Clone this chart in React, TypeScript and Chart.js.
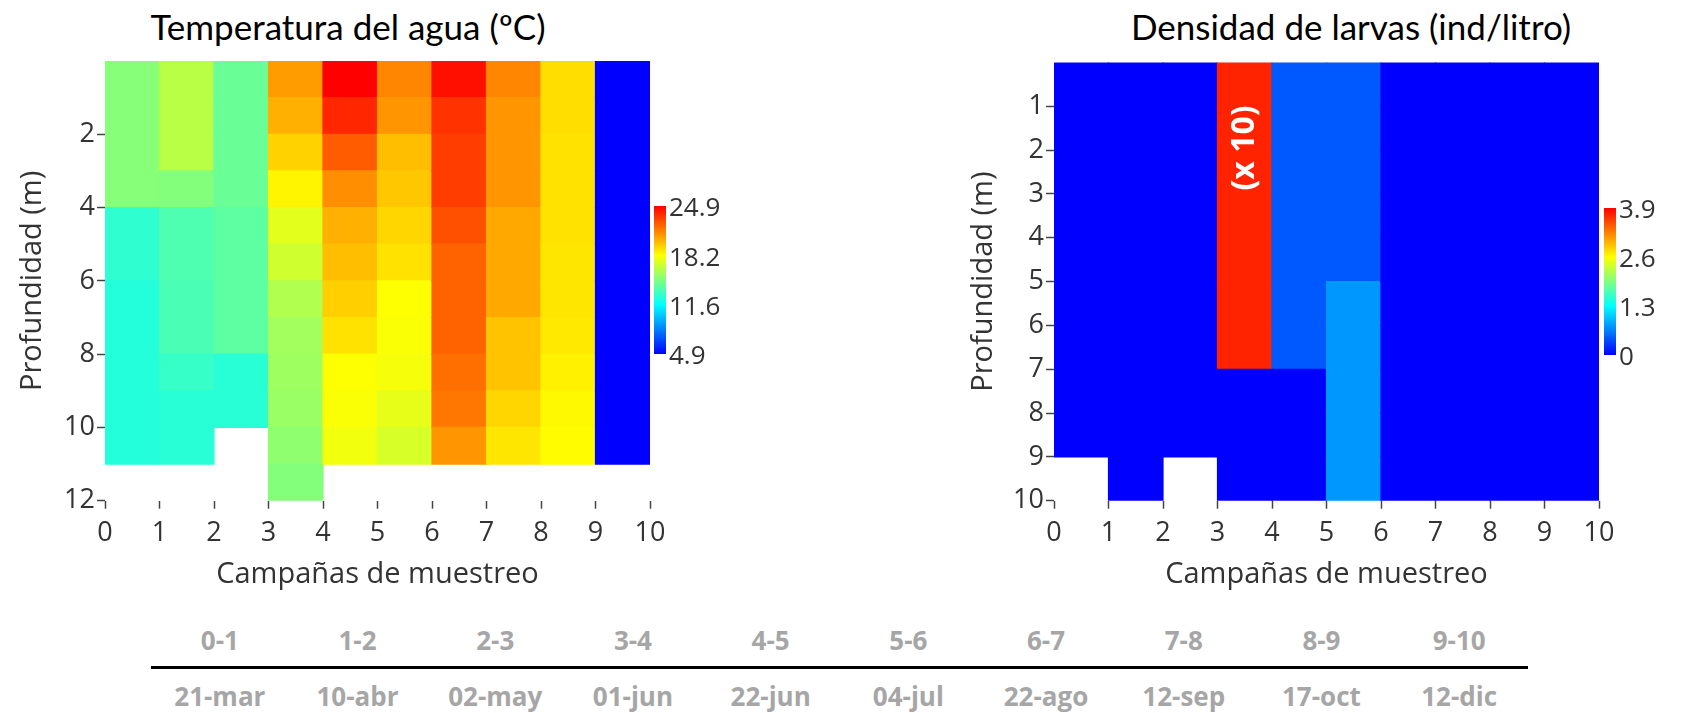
import { useEffect, useRef } from 'react';
import { Chart, registerables } from 'chart.js';

Chart.register(...registerables);

const AXIS_FONT = "'Open Sans', 'Noto Sans', sans-serif";
const TITLE_FONT = "Lato, 'Open Sans', sans-serif";

// Sampling campaigns (x axis)
const campaigns = [0, 1, 2, 3, 4, 5, 6, 7, 8, 9, 10];

// Water temperature (ºC): one value per metre of depth, for each interval between campaigns
const temp_0_1 = [15.1, 15.1, 15.1, 15.1, 12.8, 12.8, 12.5, 12.5, 12.5, 12.5, 12.5];
const temp_1_2 = [16.4, 16.4, 16.4, 15.0, 13.6, 13.6, 13.5, 13.5, 13.0, 12.6, 12.6];
const temp_2_3 = [14.3, 14.3, 14.3, 14.3, 14.0, 14.0, 14.0, 14.0, 12.6, 12.6];
const temp_3_4 = [20.8, 20.3, 19.4, 18.5, 17.5, 17.0, 16.2, 15.8, 15.7, 15.6, 15.3, 15.0];
const temp_4_5 = [24.9, 23.9, 22.5, 21.2, 20.3, 19.9, 19.5, 19.0, 18.2, 18.1, 17.9];
const temp_5_6 = [21.4, 21.0, 19.9, 19.7, 19.3, 19.0, 18.2, 18.1, 18.0, 17.6, 17.2];
const temp_6_7 = [24.5, 23.6, 23.3, 23.3, 22.8, 22.3, 22.3, 22.3, 22.0, 21.8, 21.0];
const temp_7_8 = [21.4, 21.0, 21.0, 21.0, 20.5, 20.5, 20.5, 19.8, 19.8, 19.3, 18.9];
const temp_8_9 = [19.1, 19.1, 19.0, 19.0, 19.0, 18.9, 18.9, 18.8, 18.6, 18.4, 18.3];
const temp_9_10 = [4.9, 4.9, 4.9, 4.9, 4.9, 4.9, 4.9, 4.9, 4.9, 4.9, 4.9];
const tempColumns = [temp_0_1, temp_1_2, temp_2_3, temp_3_4, temp_4_5, temp_5_6, temp_6_7, temp_7_8, temp_8_9, temp_9_10];
const tempDepthTicks = [2, 4, 6, 8, 10, 12];
const tempBarLabels = ['24.9', '18.2', '11.6', '4.9'];
const tempMin = 4.9;
const tempMax = 24.9;
const tempDepthMax = 12;

// Larval density (ind/litro): one value per metre of depth, for each interval between campaigns
const dens_0_1 = [0, 0, 0, 0, 0, 0, 0, 0, 0];
const dens_1_2 = [0, 0, 0, 0, 0, 0, 0, 0, 0, 0];
const dens_2_3 = [0, 0, 0, 0, 0, 0, 0, 0, 0];
const dens_3_4 = [3.72, 3.72, 3.72, 3.72, 3.72, 3.72, 3.72, 0, 0, 0];
const dens_4_5 = [0.45, 0.45, 0.45, 0.45, 0.45, 0.45, 0.45, 0, 0, 0];
const dens_5_6 = [0.45, 0.45, 0.45, 0.45, 0.45, 0.77, 0.77, 0.77, 0.77, 0.77];
const dens_6_7 = [0, 0, 0, 0, 0, 0, 0, 0, 0, 0];
const dens_7_8 = [0, 0, 0, 0, 0, 0, 0, 0, 0, 0];
const dens_8_9 = [0, 0, 0, 0, 0, 0, 0, 0, 0, 0];
const dens_9_10 = [0, 0, 0, 0, 0, 0, 0, 0, 0, 0];
const densColumns = [dens_0_1, dens_1_2, dens_2_3, dens_3_4, dens_4_5, dens_5_6, dens_6_7, dens_7_8, dens_8_9, dens_9_10];
const densDepthTicks = [1, 2, 3, 4, 5, 6, 7, 8, 9, 10];
const densBarLabels = ['3.9', '2.6', '1.3', '0'];
const densMin = 0;
const densMax = 3.9;
const densDepthMax = 10;
const densNote = '(x 10)';
const densNoteCampaign = 3.5;
const densNoteDepth = 1.95;

// Table under the charts
const intervalLabels = ['0-1', '1-2', '2-3', '3-4', '4-5', '5-6', '6-7', '7-8', '8-9', '9-10'];
const dateLabels = ['21-mar', '10-abr', '02-may', '01-jun', '22-jun', '04-jul', '22-ago', '12-sep', '17-oct', '12-dic'];

const JET_STOPS: [number, number[]][] = [
  [0, [0, 0, 255]],
  [1 / 3, [0, 255, 255]],
  [2 / 3, [255, 255, 0]],
  [1, [255, 0, 0]],
];

function jet(t: number): string {
  const v = Math.max(0, Math.min(1, t));
  for (let i = 1; i < JET_STOPS.length; i++) {
    const [t1, c1] = JET_STOPS[i];
    const [t0, c0] = JET_STOPS[i - 1];
    if (v <= t1) {
      const f = (v - t0) / (t1 - t0);
      const c = c0.map((a, k) => Math.round(a + (c1[k] - a) * f));
      return `rgb(${c[0]},${c[1]},${c[2]})`;
    }
  }
  return 'rgb(255,0,0)';
}

const colorbarPlugin = {
  id: 'colorbar',
  afterDraw(chart: any, _args: any, opts: any) {
    const { ctx, chartArea } = chart;
    const x = chartArea.right + opts.gap;
    const top = opts.top;
    const bottom = opts.bottom;
    const grad = ctx.createLinearGradient(0, bottom, 0, top);
    JET_STOPS.forEach(([t, c]) => grad.addColorStop(t, `rgb(${c[0]},${c[1]},${c[2]})`));
    ctx.save();
    ctx.fillStyle = grad;
    ctx.fillRect(x, top, opts.width, bottom - top);
    ctx.font = `${opts.fontSize}px ${AXIS_FONT}`;
    ctx.fillStyle = '#333';
    ctx.textAlign = 'left';
    ctx.textBaseline = 'middle';
    const labels: string[] = opts.labels;
    labels.forEach((lab, i) => {
      const y = top + ((bottom - top) * i) / (labels.length - 1) + opts.shift;
      ctx.fillText(lab, x + opts.width + opts.labelGap, y);
    });
    ctx.restore();
  },
};

const notePlugin = {
  id: 'note',
  afterDatasetsDraw(chart: any, _args: any, opts: any) {
    if (!opts || !opts.text) return;
    const { ctx, scales } = chart;
    const x = scales.x.getPixelForValue(opts.x);
    const y = scales.y.getPixelForValue(opts.y);
    ctx.save();
    ctx.translate(x, y);
    ctx.rotate(-Math.PI / 2);
    ctx.font = `bold ${opts.fontSize}px ${AXIS_FONT}`;
    ctx.fillStyle = '#ffffff';
    ctx.textAlign = 'center';
    ctx.textBaseline = 'middle';
    ctx.fillText(opts.text, 0, 0);
    ctx.restore();
  },
};

type HeatProps = {
  left: number;
  width: number;
  height: number;
  columns: number[][];
  vmin: number;
  vmax: number;
  depthMax: number;
  depthTicks: number[];
  barLabels: string[];
  plotTop: number;
  plotLeft: number;
  plotRight: number;
  plotBottom: number;
  yTitleCenter: number;
  bar: { gap: number; width: number; top: number; bottom: number };
  note?: { text: string; x: number; y: number; fontSize: number };
};

const TICK_FONT = 27;
const AXIS_TITLE_FONT = 29;

function Heatmap(p: HeatProps) {
  const ref = useRef<HTMLCanvasElement | null>(null);
  useEffect(() => {
    if (!ref.current) return;
    const cells: any[] = [];
    const colors: string[] = [];
    p.columns.forEach((vals, c) => {
      const xMid = (campaigns[c] + campaigns[c + 1]) / 2;
      vals.forEach((v, r) => {
        cells.push({ x: xMid, y: [r, r + 1], v });
        colors.push(jet((v - p.vmin) / (p.vmax - p.vmin)));
      });
    });
    const lhTitle = AXIS_TITLE_FONT * 1.2;
    const xAxisHeight = p.height - p.plotBottom;
    const xTitleCenterFromBottom = p.height - 575;
    const tickColor = '#444';
    const chart = new Chart(ref.current, {
      type: 'bar',
      data: {
        datasets: [
          {
            data: cells,
            backgroundColor: colors,
            borderWidth: 0,
            inflateAmount: 0.6,
            barPercentage: 1,
            categoryPercentage: 1,
          } as any,
        ],
      },
      options: {
        responsive: false,
        animation: false,
        devicePixelRatio: 1,
        events: [],
        layout: {
          padding: { top: p.plotTop, left: 0, right: p.width - p.plotRight, bottom: 0 },
        },
        plugins: {
          legend: { display: false },
          tooltip: { enabled: false },
          colorbar: {
            gap: p.bar.gap,
            width: p.bar.width,
            top: p.bar.top,
            bottom: p.bar.bottom,
            labels: p.barLabels,
            fontSize: 26,
            labelGap: 3,
            shift: 3,
          },
          note: p.note ? { ...p.note } : { text: '' },
        } as any,
        scales: {
          x: {
            type: 'linear',
            min: campaigns[0],
            max: campaigns[campaigns.length - 1],
            offset: false,
            afterBuildTicks: (s: any) => {
              s.ticks = campaigns.map((v) => ({ value: v }));
            },
            afterFit: (s: any) => {
              s.height = xAxisHeight;
            },
            grid: {
              display: true,
              offset: false,
              drawOnChartArea: false,
              drawTicks: true,
              tickLength: 8,
              tickWidth: 1.5,
              tickColor,
            },
            border: { display: false },
            ticks: {
              autoSkip: false,
              maxRotation: 0,
              padding: 8,
              color: '#333',
              font: { family: AXIS_FONT, size: TICK_FONT },
            },
            title: {
              display: true,
              text: 'Campañas de muestreo',
              color: '#333',
              font: { family: AXIS_FONT, size: AXIS_TITLE_FONT },
              padding: { top: 0, bottom: xTitleCenterFromBottom - lhTitle / 2 },
            },
          } as any,
          y: {
            type: 'linear',
            reverse: true,
            min: 0,
            max: p.depthMax,
            offset: false,
            afterBuildTicks: (s: any) => {
              s.ticks = p.depthTicks.map((v) => ({ value: v }));
            },
            afterFit: (s: any) => {
              s.width = p.plotLeft;
            },
            grid: {
              display: true,
              drawOnChartArea: false,
              drawTicks: true,
              tickLength: 8,
              tickWidth: 1.5,
              tickColor,
            },
            border: { display: false },
            ticks: {
              padding: 2,
              color: '#333',
              font: { family: AXIS_FONT, size: TICK_FONT },
            },
            title: {
              display: true,
              text: 'Profundidad (m)',
              color: '#333',
              font: { family: AXIS_FONT, size: AXIS_TITLE_FONT },
              padding: { top: p.yTitleCenter - lhTitle / 2, bottom: 0 },
            },
          } as any,
        },
      },
      plugins: [colorbarPlugin, notePlugin],
    });
    return () => chart.destroy();
  }, []);
  return (
    <canvas
      ref={ref}
      width={p.width}
      height={p.height}
      style={{ position: 'absolute', left: p.left, top: 0, width: p.width, height: p.height }}
    />
  );
}

const COL_W = 137.7;
const TABLE_LEFT = 151;

export default function App() {
  const titleStyle: any = {
    position: 'absolute',
    top: 9,
    fontFamily: TITLE_FONT,
    fontSize: 35,
    lineHeight: '35px',
    color: '#000',
    whiteSpace: 'nowrap',
    transform: 'translateX(-50%)',
  };
  const cellStyle: any = {
    position: 'absolute',
    width: COL_W,
    textAlign: 'center',
    fontFamily: AXIS_FONT,
    fontWeight: 700,
    fontSize: 26,
    lineHeight: '26px',
    color: '#a6a6a6',
    whiteSpace: 'nowrap',
  };
  return (
    <div
      style={{
        position: 'absolute',
        left: 0,
        top: 0,
        width: 1681,
        height: 713,
        background: '#ffffff',
        overflow: 'hidden',
      }}
    >
      <div style={{ ...titleStyle, left: 348 }}>Temperatura del agua (ºC)</div>
      <div style={{ ...titleStyle, left: 1351 }}>Densidad de larvas (ind/litro)</div>
      <Heatmap
        left={0}
        width={760}
        height={610}
        columns={tempColumns}
        vmin={tempMin}
        vmax={tempMax}
        depthMax={tempDepthMax}
        depthTicks={tempDepthTicks}
        barLabels={tempBarLabels}
        plotTop={61}
        plotLeft={105}
        plotRight={650}
        plotBottom={500.7}
        yTitleCenter={33}
        bar={{ gap: 4, width: 12, top: 206, bottom: 354 }}
      />
      <Heatmap
        left={900}
        width={781}
        height={610}
        columns={densColumns}
        vmin={densMin}
        vmax={densMax}
        depthMax={densDepthMax}
        depthTicks={densDepthTicks}
        barLabels={densBarLabels}
        plotTop={62.5}
        plotLeft={154}
        plotRight={699}
        plotBottom={500.7}
        yTitleCenter={84}
        bar={{ gap: 5, width: 12, top: 208, bottom: 355 }}
        note={{ text: densNote, x: densNoteCampaign, y: densNoteDepth, fontSize: 32 }}
      />
      {intervalLabels.map((t, i) => (
        <div key={'i' + i} style={{ ...cellStyle, left: TABLE_LEFT + i * COL_W, top: 627 }}>
          {t}
        </div>
      ))}
      <div
        style={{ position: 'absolute', left: TABLE_LEFT, top: 666, width: COL_W * 10, height: 3, background: '#000' }}
      />
      {dateLabels.map((t, i) => (
        <div key={'d' + i} style={{ ...cellStyle, left: TABLE_LEFT + i * COL_W, top: 683 }}>
          {t}
        </div>
      ))}
    </div>
  );
}
